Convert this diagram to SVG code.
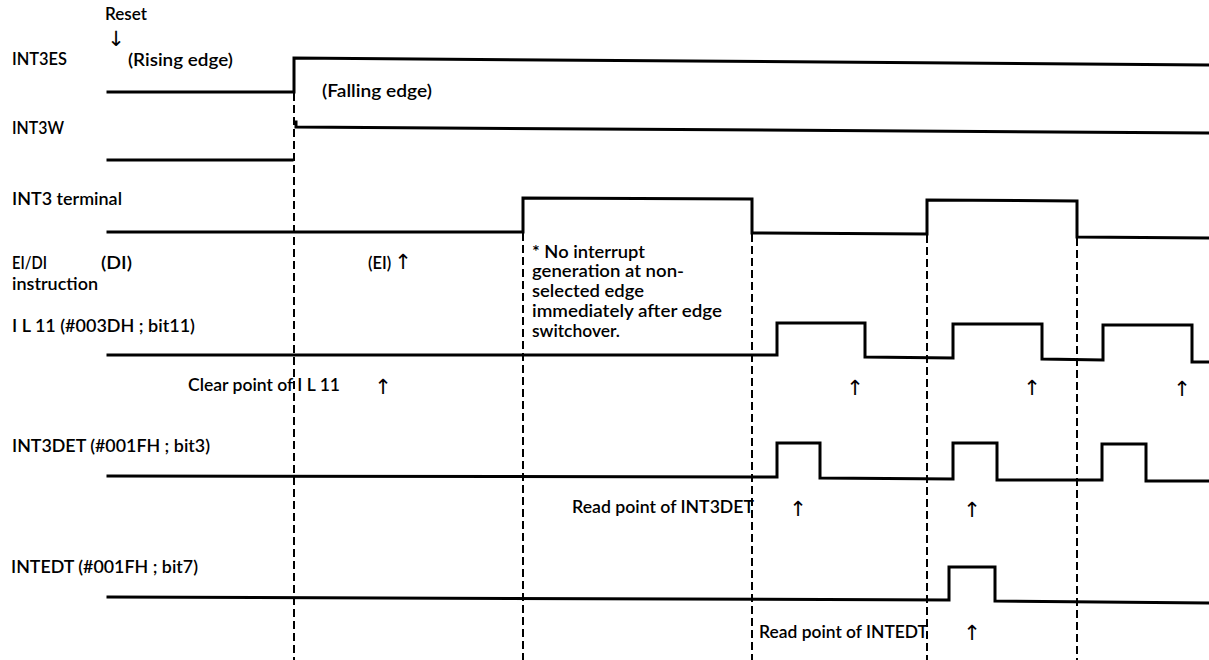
<svg xmlns="http://www.w3.org/2000/svg" width="1209" height="660" viewBox="0 0 1209 660">
<style>
.bg{fill:#fff}
.sig{fill:none;stroke:#000;stroke-width:3;stroke-linejoin:miter;stroke-linecap:square}
.dash{fill:none;stroke:#000;stroke-width:2;stroke-dasharray:8 4}
text{font-family:Lato,"Open Sans","DejaVu Sans",sans-serif;font-size:16.5px;font-weight:600;fill:#000}
.ar{font-family:"DejaVu Sans",sans-serif;font-size:21px;font-weight:normal;text-anchor:middle}
</style>
<rect class="bg" x="0" y="0" width="1209" height="660"/>
<g id="connectors">
<line class="dash" x1="294" y1="93" x2="294" y2="660"/>
<line class="dash" x1="523" y1="233" x2="523" y2="660"/>
<line class="dash" x1="752" y1="234" x2="752" y2="660"/>
<line class="dash" x1="927" y1="235" x2="927" y2="660"/>
<line class="dash" x1="1077" y1="238" x2="1077" y2="660"/>
</g>
<g id="reset">
<text x="105" y="20" textLength="42" lengthAdjust="spacingAndGlyphs">Reset</text>
<text class="ar" x="116" y="46">↓</text>
</g>
<g id="int3es">
<text x="12" y="65" textLength="55" lengthAdjust="spacingAndGlyphs">INT3ES</text>
<text x="128" y="66" textLength="105" lengthAdjust="spacingAndGlyphs">(Rising edge)</text>
<text x="322" y="97" textLength="110" lengthAdjust="spacingAndGlyphs">(Falling edge)</text>
<polyline class="sig" points="108,92 294,92 294,58 1209,65"/>
</g>
<g id="int3w">
<text x="12" y="134" textLength="52" lengthAdjust="spacingAndGlyphs">INT3W</text>
<polyline class="sig" points="108,160 292,160"/>
<polyline class="sig" points="296,122 296,127 1209,133"/>
</g>
<g id="int3-terminal">
<text x="12" y="205" textLength="110" lengthAdjust="spacingAndGlyphs">INT3 terminal</text>
<polyline class="sig" points="108,232 523,232 523,198 752,199 752,233 927,234 927,200 1077,201 1077,237 1209,238"/>
</g>
<g id="ei-di">
<text x="12" y="269" textLength="35" lengthAdjust="spacingAndGlyphs">EI/DI</text>
<text x="12" y="290" textLength="86" lengthAdjust="spacingAndGlyphs">instruction</text>
<text x="101" y="269" textLength="31" lengthAdjust="spacingAndGlyphs">(DI)</text>
<text x="368" y="269">(EI)<tspan font-family="DejaVu Sans, sans-serif" font-weight="normal" font-size="21" dx="3">↑</tspan></text>
</g>
<g id="note">
<text x="532" y="258"><tspan x="532" y="258" textLength="113" lengthAdjust="spacingAndGlyphs">* No interrupt</tspan><tspan x="532" y="277" textLength="152" lengthAdjust="spacingAndGlyphs">generation at non-</tspan><tspan x="532" y="297" textLength="112" lengthAdjust="spacingAndGlyphs">selected edge</tspan><tspan x="532" y="317" textLength="190" lengthAdjust="spacingAndGlyphs">immediately after edge</tspan><tspan x="532" y="337" textLength="88" lengthAdjust="spacingAndGlyphs">switchover.</tspan></text>
</g>
<g id="il11">
<text x="12" y="332" textLength="183" lengthAdjust="spacingAndGlyphs">I L 11 (#003DH ; bit11)</text>
<polyline class="sig" points="108,355 777,355 777,323 865,323 865,357 953,358 953,324 1042,324 1042,359 1103,360 1103,325 1192,325 1192,362 1209,362"/>
<text x="188" y="391" textLength="152" lengthAdjust="spacingAndGlyphs">Clear point of I L 11</text>
<text class="ar" x="383" y="394">↑</text>
<text class="ar" x="855" y="395">↑</text>
<text class="ar" x="1032" y="395">↑</text>
<text class="ar" x="1182" y="396">↑</text>
</g>
<g id="int3det">
<text x="12" y="452" textLength="198" lengthAdjust="spacingAndGlyphs">INT3DET (#001FH ; bit3)</text>
<polyline class="sig" points="108,476 777,477 777,443 820,443 820,478 953,479 953,443 997,443 997,480 1102,480 1102,444 1146,444 1146,481 1209,481"/>
<text x="572" y="513" textLength="182" lengthAdjust="spacingAndGlyphs">Read point of INT3DET</text>
<text class="ar" x="798" y="516">↑</text>
<text class="ar" x="972" y="517">↑</text>
</g>
<g id="intedt">
<text x="11" y="573" textLength="187" lengthAdjust="spacingAndGlyphs">INTEDT (#001FH ; bit7)</text>
<polyline class="sig" points="108,597 949,600 949,567 995,567 995,601 1209,603"/>
<text x="759" y="638" textLength="169" lengthAdjust="spacingAndGlyphs">Read point of INTEDT</text>
<text class="ar" x="972" y="640">↑</text>
</g>
</svg>
